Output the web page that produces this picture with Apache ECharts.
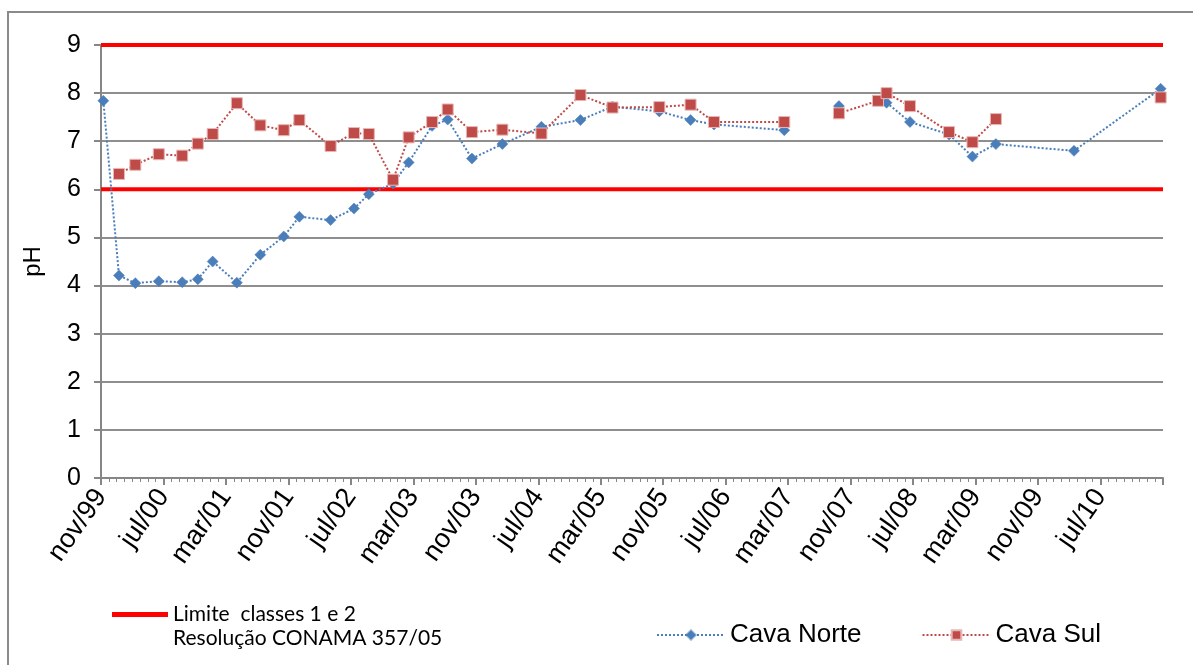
<!DOCTYPE html>
<html><head><meta charset="utf-8">
<script src="https://cdn.jsdelivr.net/npm/echarts@6/dist/echarts.min.js"></script>
<style>html,body{margin:0;padding:0;background:#fff}#c{width:1193px;height:665px}</style>
</head><body><div id="c"></div>
<script>
// sampling dates (YYYY-MM-DD)
const dates = [
  '1999-11-10','2000-01-10','2000-03-13','2000-06-13','2000-09-13','2000-11-13',
  '2001-01-10','2001-04-13','2001-07-13','2001-10-13','2001-12-13','2002-04-13',
  '2002-07-13','2002-09-10','2002-12-13','2003-02-13','2003-05-13','2003-07-13',
  '2003-10-16','2004-02-13','2004-07-13','2004-12-13','2005-04-16','2005-10-16',
  '2006-02-16','2006-05-16','2007-02-16','2007-06-16','2007-09-16','2008-02-16',
  '2008-03-19','2008-06-19','2008-11-19','2009-02-19','2009-05-19','2010-03-19',
  '2011-02-22'
];
const cavaNorte = [
  7.84, 4.21, 4.05, 4.09, 4.07, 4.13,
  4.50, 4.06, 4.64, 5.02, 5.43, 5.36,
  5.60, 5.90, 6.12, 6.56, 7.32, 7.45,
  6.64, 6.94, 7.30, 7.44, 7.72, 7.62,
  7.44, 7.35, 7.23, null, 7.73, null,
  7.80, 7.40, 7.14, 6.68, 6.94, 6.80,
  8.09
];
const cavaSul = [
  null, 6.32, 6.51, 6.73, 6.70, 6.95,
  7.15, 7.79, 7.33, 7.23, 7.44, 6.90,
  7.17, 7.15, 6.20, 7.08, 7.40, 7.66,
  7.19, 7.24, 7.16, 7.96, 7.70, 7.71,
  7.76, 7.40, 7.40, null, 7.58, 7.84,
  8.00, 7.73, 7.19, 6.98, 7.46, null,
  7.91
];
const limitValues = [9, 6];
const limitName = 'Limite  classes 1 e 2';
const limitSubtitle = 'Resolução CONAMA 357/05';
const monthNames = ['jan','fev','mar','abr','mai','jun','jul','ago','set','out','nov','dez'];
const axisMonths = 136;   // nov/99 .. mar/11
const tickMonths = 8;
const yTicks = [0,1,2,3,4,5,6,7,8,9];

function monthIndex(s){
  const p = s.split('-').map(Number);
  return (p[0]-1999)*12 + (p[1]-11) + (p[2]-1)/30;
}
function monthLabel(v){
  const t = 10 + Math.round(v);
  const y = 1999 + Math.floor(t/12);
  return monthNames[t%12] + '/' + String(y%100).padStart(2,'0');
}
const pts = arr => dates.map((d,i) => [monthIndex(d), arr[i] === null ? '-' : arr[i]]);

const chart = echarts.init(document.getElementById('c'));
const limitSeries = limitValues.map(v => ({
  name: limitName, type: 'line', symbol: 'none', silent: true, z: 1,
  data: [[0, v], [axisMonths, v]],
  lineStyle: {color: '#ff0000', width: 4}, itemStyle: {color: '#ff0000'}
}));
const SANS = '"Liberation Sans", Arial, sans-serif';
chart.setOption({
  animation: false,
  backgroundColor: '#ffffff',
  grid: {left: 101, right: 30, top: 45, bottom: 187},
  xAxis: {
    type: 'value', min: 0, max: axisMonths, interval: tickMonths,
    axisLine: {lineStyle: {color: '#868686', width: 2}},
    axisTick: {show: true, length: 7, lineStyle: {color: '#868686', width: 2}},
    minorTick: {show: true, splitNumber: tickMonths, length: 4, lineStyle: {color: '#868686', width: 1}},
    splitLine: {show: false},
    axisLabel: {
      rotate: 55, margin: 14, fontFamily: SANS, fontSize: 27, color: '#000',
      formatter: v => v >= axisMonths ? '' : monthLabel(v)
    }
  },
  yAxis: {
    type: 'value', min: yTicks[0], max: yTicks[yTicks.length-1], interval: 1,
    name: 'pH', nameLocation: 'middle', nameGap: 56, nameRotate: 90,
    nameTextStyle: {fontFamily: SANS, fontSize: 24, color: '#000'},
    axisLine: {show: true, lineStyle: {color: '#868686', width: 2}},
    axisTick: {show: true, length: 7, lineStyle: {color: '#868686', width: 2}},
    splitLine: {lineStyle: {color: '#8e8e8e', width: 2}},
    axisLabel: {margin: 20, fontFamily: SANS, fontSize: 25, color: '#000'}
  },
  legend: [
    {
      data: [{name: limitName, icon: 'rect'}], left: 107, top: 599, itemWidth: 56, itemHeight: 5, itemGap: 10,
      textStyle: {fontFamily: 'Lato, "Open Sans"', fontSize: 21, color: '#000'}
    },
    {
      data: ['Cava Norte', 'Cava Sul'], left: 651, top: 617, itemWidth: 68, itemHeight: 12, itemGap: 60,
      textStyle: {fontFamily: SANS, fontSize: 26, color: '#000'}
    }
  ],
  graphic: [
    {type: 'rect', shape: {x: 8, y: 12, width: 1300, height: 800}, silent: true,
     style: {fill: 'none', stroke: '#8a8a8a', lineWidth: 2}},
    {type: 'text', left: 173, top: 628, silent: true,
     style: {text: limitSubtitle, fontFamily: 'Lato, "Open Sans"', fontSize: 21, fill: '#000'}}
  ],
  series: [
    ...limitSeries,
    {
      name: 'Cava Norte', type: 'line', data: pts(cavaNorte), z: 3,
      symbol: 'diamond', symbolSize: 11, connectNulls: false,
      lineStyle: {color: '#4a7ebb', width: 2, type: [2, 2]},
      itemStyle: {color: '#4a7ebb', borderColor: 'rgba(74,126,187,0.5)', borderWidth: 1}
    },
    {
      name: 'Cava Sul', type: 'line', data: pts(cavaSul), z: 4,
      symbol: 'rect', symbolSize: 11, connectNulls: false,
      lineStyle: {color: '#be4b48', width: 2, type: [2, 2]},
      itemStyle: {color: '#be4b48', borderColor: '#e8b6b5', borderWidth: 1}
    }
  ]
});
</script></body></html>
